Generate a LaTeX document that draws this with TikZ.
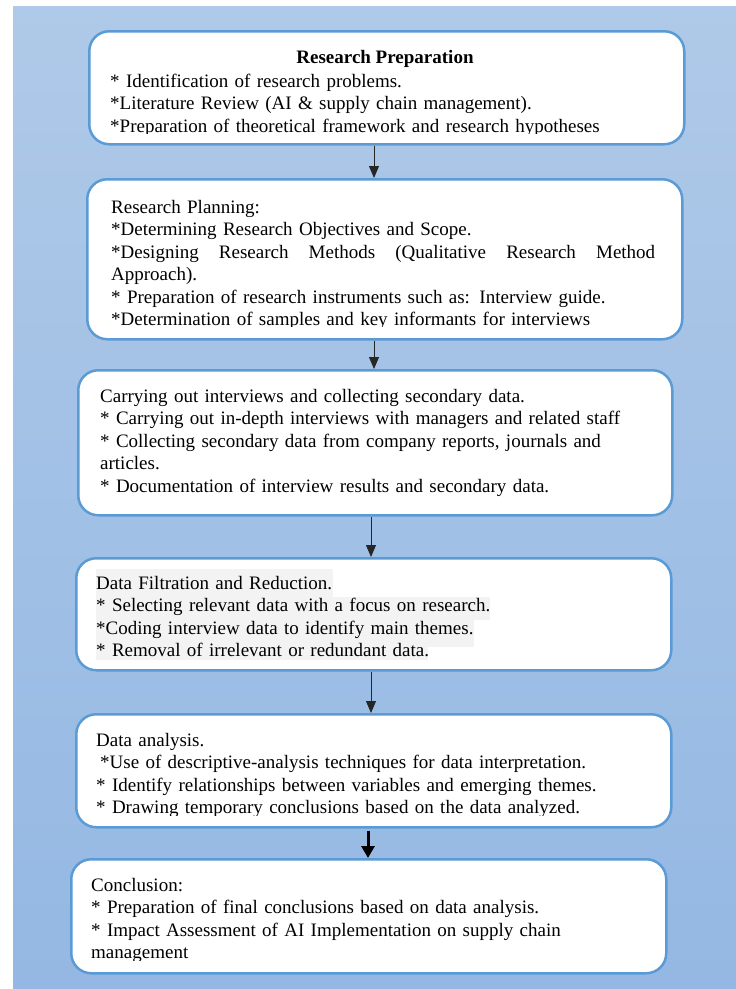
\documentclass[tikz,border=0pt]{standalone}
\usepackage{fontspec}
\setmainfont{Liberation Serif}
\usetikzlibrary{arrows.meta}
\definecolor{bgtop}{HTML}{AFC9E8}
\definecolor{bgbot}{HTML}{94B8E3}
\definecolor{edge}{HTML}{5B9BD5}
\definecolor{hl}{HTML}{F3F3F3}
\begin{document}
\begin{tikzpicture}[x=1pt,y=-1pt,
  stage/.style={draw=edge, line width=2.5pt, fill=white, rounded corners=20pt, inner sep=0pt, anchor=north west},
  txt/.style={anchor=base west, inner sep=0pt, text width=640pt, align=left, font=\fontsize{19}{22.4}\selectfont},
  ttl/.style={anchor=base, inner sep=0pt, font=\fontsize{19}{22.4}\selectfont\bfseries},
  arr/.style={draw=black!85, line width=0.9pt, -{Triangle[width=10pt,length=12pt]}},
  arrbold/.style={draw=black, line width=3pt, -{Triangle[width=13pt,length=12pt]}}
]
\useasboundingbox (0,0) rectangle (736,989);
\fill[white] (0,0) rectangle (736,989);
\shade[top color=bgtop, bottom color=bgbot] (13,6) rectangle (736,989);

% boxes
\node[stage, minimum width=595pt, minimum height=113pt] (b1) at (88,30) {};
\node[stage, minimum width=595pt, minimum height=160pt] (b2) at (86,178) {};
\node[stage, minimum width=594pt, minimum height=145pt] (b3) at (77,369) {};
\node[stage, minimum width=595pt, minimum height=112pt] (b4) at (75,557) {};
\node[stage, minimum width=595pt, minimum height=113pt] (b5) at (75,713) {};
\node[stage, minimum width=595pt, minimum height=114pt] (b6) at (70,858) {};

% box 1
\begin{scope}
\clip (b1.north west) rectangle ([yshift=12pt]b1.south east);
\node[ttl] (t1h) at (385,63) {Research Preparation};
\node[txt] (t1) at (110,87.5) {{*} Identification of research problems.\\
{*}Literature Review (AI \& supply chain management).\\
{*}Preparation of theoretical framework and research hypotheses};
\end{scope}

% box 2
\begin{scope}
\clip (b2.north west) rectangle ([yshift=14pt]b2.south east);
\node[txt] (t2) at (111,213.5) {Research Planning:\\
{*}Determining Research Objectives and Scope.\\
\makebox[544pt][l]{{*}Designing\hfill Research\hfill Methods\hfill (Qualitative\hfill Research\hfill Method}\\
Approach).\\
{*} Preparation of research instruments such as: Interview guide.\\
{*}Determination of samples and key informants for interviews};
\end{scope}

% box 3
\begin{scope}
\clip (b3.north west) rectangle ([yshift=12pt]b3.south east);
\node[txt] (t3) at (100,402.5) {Carrying out interviews and collecting secondary data.\\
{*} Carrying out in-depth interviews with managers and related staff\\
{*} Collecting secondary data from company reports, journals and\\
articles.\\
{*} Documentation of interview results and secondary data.};
\end{scope}

% box 4
\begin{scope}
\clip (b4.north west) rectangle ([yshift=12pt]b4.south east);
\fill[hl] (96,569) rectangle (333,597);
\fill[hl] (96,597) rectangle (490,620);
\fill[hl] (96,620) rectangle (474,647);
\fill[hl] (96,647) rectangle (428,666);
\node[txt] (t4) at (96,589.5) {Data Filtration and Reduction.\\
{*} Selecting relevant data with a focus on research.\\
{*}Coding interview data to identify main themes.\\
{*} Removal of irrelevant or redundant data.};
\end{scope}

% box 5
\begin{scope}
\clip (b5.north west) rectangle ([yshift=13pt]b5.south east);
\node[txt] (t5) at (96,746.5) {Data analysis.\\
\hspace*{4pt}{*}Use of descriptive-analysis techniques for data interpretation.\\
{*} Identify relationships between variables and emerging themes.\\
{*} Drawing temporary conclusions based on the data analyzed.};
\end{scope}

% box 6
\begin{scope}
\clip (b6.north west) rectangle ([yshift=14pt]b6.south east);
\node[txt] (t6) at (91,891.5) {Conclusion:\\
{*} Preparation of final conclusions based on data analysis.\\
{*} Impact Assessment of AI Implementation on supply chain\\
management};
\end{scope}

% connectors
\coordinate (xa) at (374,0);
\coordinate (xb) at (371,0);
\coordinate (xc) at (368,0);
\draw[arr] (xa |- b1.south) -- (xa |- b2.north);
\draw[arr] (xa |- b2.south) -- (xa |- b3.north);
\draw[arr] (xb |- b3.south) -- (xb |- b4.north);
\draw[arr] (xb |- b4.south) -- (xb |- b5.north);
\draw[arrbold] ([yshift=-2pt]xc |- b5.south) -- (xc |- b6.north);
\end{tikzpicture}
\end{document}
